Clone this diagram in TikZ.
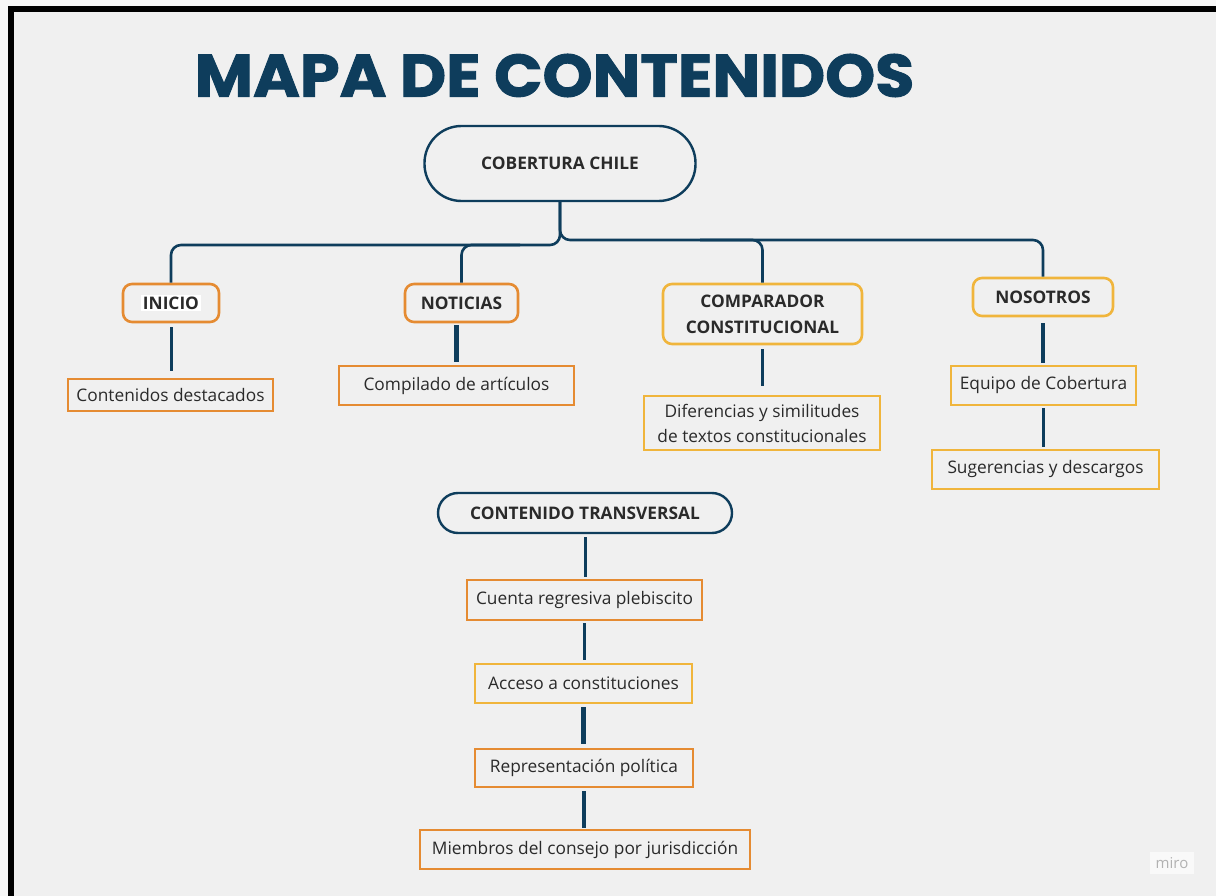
\documentclass[tikz,border=0pt]{standalone}
\usepackage{fontspec}
\setmainfont{Open Sans}
\newfontfamily\titlefont{Poppins}[BoldFeatures={FakeBold=1.5}]
\definecolor{navy}{HTML}{0E3D5C}
\definecolor{orng}{HTML}{E58B32}
\definecolor{yell}{HTML}{F0B53C}
\definecolor{bgc}{HTML}{F0F0F0}
\definecolor{txt}{HTML}{2A2A2A}
\tikzset{
  hub/.style={draw=navy, line width=2.4pt, text=txt, inner sep=0pt, font=\bfseries\fontsize{17.3}{20}\selectfont},
  cat/.style={draw=#1, line width=2.6pt, rounded corners=9pt, text=txt, inner sep=0pt, align=center, font=\bfseries\fontsize{17.3}{26}\selectfont},
  leaf/.style={draw=#1, line width=2.6pt, text=txt, inner sep=0pt, align=center, font=\fontsize{17.3}{25}\selectfont},
  conn/.style={draw=navy, line width=2.6pt, rounded corners=10pt},
  stem/.style={draw=navy, line width=#1},
  stem/.default=3pt
}
\begin{document}
\begin{tikzpicture}[x=1pt,y=-1pt]
\useasboundingbox (0,0) rectangle (1216,896);
\fill[white!97!black] (0,0) rectangle (1216,896);
\fill[black] (8,6) rectangle (1216,12);
\fill[black] (8,6) rectangle (14,896);
\fill[bgc] (14,12) rectangle (1216,896);

\node[text=navy, inner sep=0pt, xscale=1.06] (title) at (554.5,75.5) {\titlefont\bfseries\fontsize{60}{60}\selectfont MAPA DE CONTENIDOS};

\node[hub, rounded corners=37pt, minimum width=271pt, minimum height=75pt] (cob) at (560,163.5) {COBERTURA CHILE};

\node[cat=orng, minimum width=96pt, minimum height=38pt] (inicio) at (171,303) {{\setlength\fboxsep{1.5pt}\colorbox{white}{INICIO}}};
\node[cat=orng, minimum width=113pt, minimum height=38pt] (noticias) at (461.5,303) {NOTICIAS};
\node[cat=yell, minimum width=199pt, minimum height=60pt] (comp) at (762.5,314) {COMPARADOR\\CONSTITUCIONAL};
\node[cat=yell, minimum width=140pt, minimum height=38pt] (nosotros) at (1043,297) {NOSOTROS};

\node[leaf=orng, minimum width=205pt, minimum height=32pt] (cont) at (170.5,395) {Contenidos destacados};
\node[leaf=orng, minimum width=235pt, minimum height=39pt] (compilado) at (456.5,385.5) {Compilado de artículos};
\node[leaf=yell, minimum width=236pt, minimum height=54pt] (dif) at (762,423) {Diferencias y similitudes\\de textos constitucionales};
\node[leaf=yell, minimum width=185pt, minimum height=39pt] (equipo) at (1043.5,385.5) {Equipo de Cobertura};
\node[leaf=yell, minimum width=227pt, minimum height=39pt] (suger) at (1045.5,469.5) {Sugerencias y descargos};

\node[hub, rounded corners=20pt, minimum width=294pt, minimum height=40pt] (trans) at (585,513) {CONTENIDO TRANSVERSAL};
\node[leaf=orng, minimum width=235pt, minimum height=40pt] (cuenta) at (584.5,600) {Cuenta regresiva plebiscito};
\node[leaf=yell, minimum width=217pt, minimum height=39pt] (acceso) at (583.5,683.5) {Acceso a constituciones};
\node[leaf=orng, minimum width=218pt, minimum height=38pt] (repr) at (584,768) {Representación política};
\node[leaf=orng, minimum width=330pt, minimum height=39pt] (miembros) at (585,849.5) {Miembros del consejo por jurisdicción};

% top tree
\coordinate (jl) at (520,245);
\coordinate (jr) at (700,240);
\draw[conn] (cob.south) |- (300,245) -| (inicio.north);
\draw[conn] (cob.south) |- (900,240) -| (nosotros.north);
\draw[conn] (jl) -| (noticias.north);
\draw[conn] (jr) -| (comp.north);

% stems
\draw[stem, shorten <=4pt, shorten >=7pt] (inicio.south) -- (inicio.south |- cont.north);
\draw[stem=4.5pt, shorten <=2pt, shorten >=3pt] (compilado.north |- noticias.south) -- (compilado.north);
\draw[stem, shorten <=4pt, shorten >=9pt] (comp.south) -- (comp.south |- dif.north);
\draw[stem=3.5pt, shorten <=6pt, shorten >=2pt] (nosotros.south) -- (nosotros.south |- equipo.north);
\draw[stem=3.5pt, shorten <=2pt, shorten >=2pt] (equipo.south) -- (equipo.south |- suger.north);

\draw[stem, shorten <=3pt, shorten >=2pt] (trans.south) -- (trans.south |- cuenta.north);
\draw[stem, shorten <=2pt, shorten >=3pt] (cuenta.south) -- (cuenta.south |- acceso.north);
\draw[stem=4.5pt, shorten <=3pt, shorten >=4pt] (acceso.south) -- (acceso.south |- repr.north);
\draw[stem=4.5pt, shorten <=3pt, shorten >=1pt] (repr.south) -- (repr.south |- miembros.north);

\node[fill=white!60!bgc, text=black!30, inner xsep=6pt, inner ysep=5pt, font=\fontsize{15}{15}\selectfont] (miro) at (1172,863) {miro};
\end{tikzpicture}
\end{document}
